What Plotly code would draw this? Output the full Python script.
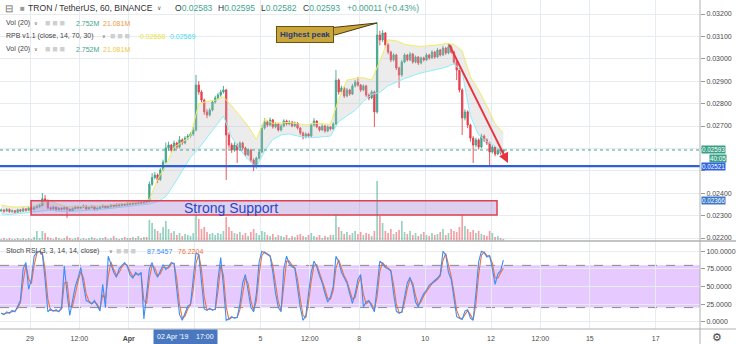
import pandas as pd
import plotly.graph_objects as go

FONT = "Liberation Sans, Arial, sans-serif"
W, H = 736, 344
ML, MR, MT, MB = 0, 36, 0, 15
PW, PH = W - ML - MR, H - MT - MB
SPLIT = (PH - 241) / PH

# ---------------- data (prices in 1e-5 USDT, 2-hour candles) ----------------
opens_e5 = [2322,2325,2320,2328,2318,2322,2315,2326,2320,2330,2324,2333,
2328,2336,2340,2345,2375,2368,2335,2330,2338,2326,2333,2329,
2336,2328,2322,2331,2340,2334,2338,2343,2330,2336,2341,2327,
2332,2338,2344,2335,2340,2347,2342,2350,2345,2352,2348,2355,
2351,2358,2354,2361,2357,2365,2362,2440,2470,2481,2460,2504,
2539,2602,2615,2593,2624,2606,2638,2624,2646,2655,2664,2682,
2883,2852,2816,2763,2749,2771,2807,2825,2838,2852,2861,2660,
2615,2593,2615,2593,2624,2602,2571,2593,2548,2517,2557,2584,
2691,2718,2704,2727,2696,2709,2682,2700,2722,2709,2718,2700,
2713,2691,2669,2651,2664,2655,2704,2722,2696,2682,2700,2678,
2696,2687,2709,2905,2852,2870,2834,2861,2843,2879,2896,2883,
2861,2879,2838,2825,2852,2763,3106,3084,3115,3062,3030,2995,
3017,2959,2928,2986,3017,2995,3021,2986,3008,2981,3004,2995,
3017,3004,3030,3008,3039,3017,3048,3026,3053,3030,2986,2950,
2861,2736,2763,2704,2646,2615,2638,2606,2655,2638,2624,2584,
2606,2575,2593,2583]
highs_e5 = [2331,2329,2334,2332,2327,2325,2331,2330,2336,2334,2339,2337,
2342,2346,2352,2401,2392,2372,2340,2344,2341,2338,2337,2342,
2339,2332,2336,2346,2344,2343,2349,2346,2341,2347,2344,2337,
2343,2350,2347,2345,2352,2351,2355,2354,2357,2356,2360,2359,
2363,2362,2366,2365,2370,2369,2452,2490,2495,2488,2512,2550,
2626,2630,2620,2635,2630,2655,2645,2655,2664,2672,2695,2928,
2900,2860,2822,2775,2780,2815,2835,2848,2862,2879,2866,2672,
2625,2628,2622,2632,2630,2608,2600,2598,2555,2563,2592,2705,
2735,2725,2738,2732,2718,2714,2708,2730,2728,2726,2723,2720,
2717,2695,2675,2672,2670,2712,2735,2726,2700,2708,2704,2703,
2700,2716,2950,2912,2880,2876,2870,2866,2888,2905,2919,2888,
2886,2884,2845,2860,2858,3160,3125,3128,3120,3070,3036,3025,
3022,2965,2995,3025,3022,3030,3026,3015,3012,3010,3010,3025,
3022,3038,3035,3048,3044,3058,3052,3070,3060,3036,2992,2958,
2868,2775,2770,2710,2655,2648,2645,2665,2662,2645,2630,2615,
2610,2600,2598,2595]
lows_e5 = [2316,2313,2317,2312,2313,2309,2312,2315,2316,2318,2320,2322,
2324,2331,2335,2341,2360,2328,2322,2325,2319,2321,2322,2325,
2290,2316,2318,2327,2328,2330,2334,2324,2326,2332,2321,2322,
2328,2334,2330,2331,2336,2337,2339,2340,2342,2343,2345,2346,
2348,2349,2351,2352,2354,2356,2360,2432,2462,2445,2455,2498,
2532,2590,2580,2588,2598,2600,2615,2618,2638,2648,2656,2676,
2840,2805,2750,2735,2742,2765,2800,2818,2830,2845,2459,2600,
2580,2585,2535,2588,2594,2562,2565,2538,2499,2510,2550,2580,
2684,2695,2698,2688,2690,2675,2676,2694,2702,2703,2694,2695,
2684,2660,2640,2645,2648,2650,2698,2690,2675,2677,2670,2672,
2680,2683,2705,2840,2845,2825,2828,2835,2838,2872,2875,2852,
2855,2830,2815,2820,2696,2755,3060,3075,3050,3020,2985,2988,
2950,2870,2920,2980,2988,2990,2978,2980,2972,2975,2988,2990,
2996,3000,3000,3004,3010,3012,3018,3020,3022,2975,2905,2850,
2660,2725,2690,2630,2535,2605,2595,2600,2628,2615,2526,2578,
2565,2570,2572,2578]
closes_e5 = [2325,2320,2328,2318,2322,2315,2326,2320,2330,2324,2333,2328,
2336,2340,2345,2375,2368,2335,2330,2338,2326,2333,2329,2336,
2328,2322,2331,2340,2334,2338,2343,2330,2336,2341,2327,2332,
2338,2344,2335,2340,2347,2342,2350,2345,2352,2348,2355,2351,
2358,2354,2361,2357,2365,2362,2440,2470,2481,2460,2504,2539,
2602,2615,2593,2624,2606,2638,2624,2646,2655,2664,2682,2883,
2852,2816,2763,2749,2771,2807,2825,2838,2852,2861,2660,2615,
2593,2615,2593,2624,2602,2571,2593,2548,2517,2557,2584,2691,
2718,2704,2727,2696,2709,2682,2700,2722,2709,2718,2700,2713,
2691,2669,2651,2664,2655,2704,2722,2696,2682,2700,2678,2696,
2687,2709,2905,2852,2870,2834,2861,2843,2879,2896,2883,2861,
2879,2838,2825,2852,2763,3106,3084,3115,3062,3030,2995,3017,
2959,2928,2986,3017,2995,3021,2986,3008,2981,3004,2995,3017,
3004,3030,3008,3039,3017,3048,3026,3053,3030,2986,2950,2861,
2736,2763,2704,2646,2615,2638,2606,2655,2638,2624,2584,2606,
2575,2593,2580,2593]
volumes_m = [8,12,8,12,8,8,12,8,12,8,12,8,
16,40,12,40,32,16,
12,8,16,12,8,12,20,12,8,12,16,8,12,8,12,16,12,8,12,12,16,8,12,20,12,8,12,16,12,12,16,12,20,12,16,16,
84,72,48,40,32,56,80,48,32,40,24,32,20,28,24,20,32,104,88,48,56,36,28,32,24,32,28,40,96,56,40,32,28,36,
24,32,20,36,48,32,24,40,36,24,20,28,16,24,20,16,24,12,20,16,24,28,20,16,24,32,20,16,24,12,20,16,24,
24,104,56,40,28,36,24,32,40,28,36,24,32,28,20,40,240,100,72,40,32,48,28,36,44,80,36,28,40,24,32,20,
28,36,24,20,32,24,28,36,48,24,32,48,40,36,56,104,60,48,36,44,32,40,28,24,20,40,32,16,20,12,8]
# RPB bands, sampled every 3rd candle
rpb_upper_e5 = [2347,2340,2338,2340,2343,2358,2368,2350,2340,2341,2343,2342,2343,2346,2350,2354,
2358,2362,2372,2462,2525,2605,2628,2655,2800,2810,2815,2830,2790,2745,2700,2640,2730,2712,2715,
2716,2710,2705,2712,2710,2708,2820,2905,2912,2916,2905,2990,3085,3080,3065,3058,3055,3058,3062,
3068,3065,3035,2920,2860,2790,2710,2668]
rpb_lower_e5 = [2307,2305,2308,2312,2318,2322,2325,2320,2318,2320,2322,2325,2325,2330,2335,2340,
2344,2349,2352,2362,2385,2440,2500,2560,2600,2650,2700,2745,2650,2595,2550,2515,2590,2640,2660,
2665,2655,2650,2648,2652,2655,2720,2745,2770,2810,2840,2850,2880,2895,2912,2925,2937,2945,2952,
2962,2978,2940,2745,2660,2630,2610,2569]
stoch_k = [12,10,14,12,16,14,22,30,75,84,46,60,
93,99,100,96,60,14,18,15,17,14,20,79,
40,9,30,50,62,77,52,30,28,25,30,22,
15,53,20,93,80,70,63,75,80,84,78,66,
62,70,66,70,4,40,75,84,70,63,72,81,
74,78,84,82,45,10,2,12,22,25,60,98,
95,60,18,16,19,16,18,60,91,50,2,4,
7,5,6,25,55,67,45,20,14,40,85,100,
98,95,93,70,40,20,14,75,93,82,78,76,
50,20,2,8,40,70,86,78,65,55,40,28,
35,50,93,85,70,62,55,40,26,40,60,67,
21,28,30,22,14,50,86,82,77,75,72,40,
15,12,14,35,55,63,50,28,21,32,40,45,
52,55,58,62,67,100,95,70,60,30,7,5,
3,15,17,5,2,40,85,100,98,92,94,75,
53,68,72,87.5457]
stoch_d = [12,11,12,13,14,15,19,27,57,80,61,54,
80,97,100,98,74,32,16,16,16,15,18,55,
56,21,22,42,57,71,62,39,29,26,28,25,
18,38,33,64,85,74,66,70,78,82,80,71,
64,67,68,68,30,26,61,80,76,66,68,77,
77,76,82,83,60,24,5,8,18,24,46,83,
96,74,35,17,18,17,17,43,79,66,21,3,
6,6,6,17,43,62,54,30,16,30,67,94,
99,96,94,79,52,28,16,51,86,86,80,77,
60,32,9,6,27,58,80,81,70,59,46,33,
32,44,76,88,76,65,58,46,32,34,52,64,
39,25,29,25,17,36,72,84,79,76,73,53,
25,13,13,27,47,60,55,37,24,28,37,43,
49,54,57,60,65,87,97,80,64,42,16,6,
4,10,16,10,3,25,67,94,99,94,93,83,
62,62,70,76.2204]

price_ticks = [0.022,0.023,0.024,0.025,0.026,0.027,0.028,0.029,0.030,0.031,0.032]
price_tick_labels = ['0.02200','0.02300','0.02400','','','0.02700','0.02800','0.02900','0.03000','0.03100','0.03200']
stoch_ticks = [0,25,50,75,100]
time_ticks = ['2019-03-29 00:00','2019-03-30 12:00','2019-04-01 00:00','2019-04-03 00:00',
              '2019-04-05 00:00','2019-04-06 12:00','2019-04-08 00:00','2019-04-10 00:00',
              '2019-04-12 00:00','2019-04-13 12:00','2019-04-15 00:00','2019-04-17 00:00']
time_labels = ['29','12:00','<b>Apr</b>','','5','12:00','8','10','12','12:00','15','17']

support_low, support_high = 0.02303, 0.02366
support_start, support_end = '2019-03-29 00:44', '2019-04-12 04:24'
hline_price = 0.02521
last_price = 0.02593
arrow_end = ('2019-04-12 12:24', 0.02535)

n = len(closes_e5)
assert all(len(a) == n for a in [opens_e5, highs_e5, lows_e5, volumes_m, stoch_k, stoch_d]), \
    [len(a) for a in [opens_e5, highs_e5, lows_e5, closes_e5, volumes_m, stoch_k, stoch_d]]
times = pd.date_range('2019-03-28 03:00', periods=n, freq='2h')
band_times = times[::3]
assert len(band_times) == len(rpb_upper_e5) == len(rpb_lower_e5)

sc = lambda a: [v / 1e5 for v in a]
opens, highs, lows, closes = sc(opens_e5), sc(highs_e5), sc(lows_e5), sc(closes_e5)

UP, DN = '#3fa58c', '#e8404f'
GRID = '#e7ecf1'
XR = ['2019-03-28 02:08', '2019-04-18 08:20']
PRICE_RANGE = [0.021866, 0.032625]
STOCH_RANGE = [-10.4, 114.6]
VOL_RANGE = [0, 964]

vol_colors = ['rgba(80,180,150,0.6)' if c >= o else 'rgba(236,95,105,0.6)'
              for o, c in zip(opens_e5, closes_e5)]

fig = go.Figure()
fig.add_trace(go.Bar(x=times, y=volumes_m, marker=dict(color=vol_colors, line_width=0),
                     width=2 * 3600 * 1000 * 0.62, xaxis='x', yaxis='y', hoverinfo='skip'))
fig.add_trace(go.Scatter(x=band_times, y=sc(rpb_upper_e5), mode='lines',
                         line=dict(color='#f2ec62', width=1), xaxis='x', yaxis='y3', hoverinfo='skip'))
fig.add_trace(go.Scatter(x=band_times, y=sc(rpb_lower_e5), mode='lines',
                         line=dict(color='#8eeefb', width=1), fill='tonexty',
                         fillcolor='rgba(185,185,185,0.28)', xaxis='x', yaxis='y3', hoverinfo='skip'))
fig.add_trace(go.Candlestick(x=times, open=opens, high=highs, low=lows, close=closes,
                             increasing=dict(line=dict(color=UP, width=0.9), fillcolor=UP),
                             decreasing=dict(line=dict(color=DN, width=0.9), fillcolor=DN),
                             whiskerwidth=0, xaxis='x', yaxis='y3', hoverinfo='skip'))
fig.add_trace(go.Scatter(x=times, y=stoch_d, mode='lines', line=dict(color='#f2703a', width=1.1),
                         xaxis='x2', yaxis='y2', hoverinfo='skip'))
fig.add_trace(go.Scatter(x=times, y=stoch_k, mode='lines', line=dict(color='#3d8ef7', width=1.1),
                         xaxis='x2', yaxis='y2', hoverinfo='skip'))

tickfont = dict(family=FONT, size=7, color='#4a4a4a')
fig.update_layout(
    width=W, height=H, margin=dict(l=ML, r=MR, t=MT, b=MB),
    paper_bgcolor='white', plot_bgcolor='white', showlegend=False,
    xaxis=dict(domain=[0, 1], anchor='y', range=XR, type='date', tickvals=time_ticks,
               showticklabels=False, showgrid=True, gridcolor=GRID, zeroline=False,
               rangeslider=dict(visible=False), ticks=''),
    xaxis2=dict(domain=[0, 1], anchor='y2', range=XR, type='date', tickvals=time_ticks,
                ticktext=time_labels, showgrid=True, gridcolor=GRID, zeroline=False,
                rangeslider=dict(visible=False), tickfont=tickfont, ticks='outside',
                ticklen=3, tickcolor='rgba(0,0,0,0)'),
    yaxis=dict(domain=[SPLIT, 1], range=VOL_RANGE, visible=False),
    yaxis3=dict(overlaying='y', anchor='x', side='right', range=PRICE_RANGE,
                tickvals=price_ticks, ticktext=price_tick_labels,
                showgrid=True, gridcolor=GRID, zeroline=False, ticks='outside', ticklen=4,
                tickcolor='#9a9a9a', tickfont=tickfont),
    yaxis2=dict(domain=[0, SPLIT], anchor='x2', side='right', range=STOCH_RANGE,
                tickvals=stoch_ticks, ticktext=['%.4f' % v for v in stoch_ticks],
                showgrid=True, gridcolor=GRID, zeroline=False, ticks='outside', ticklen=4,
                tickcolor='#9a9a9a', tickfont=tickfont),
)

# stoch band
fig.add_shape(type='rect', xref='paper', x0=0, x1=1, yref='y2', y0=20, y1=80,
              fillcolor='rgba(190,120,255,0.40)', line_width=0, layer='below')
for lvl in (20, 80):
    fig.add_shape(type='line', xref='paper', x0=0, x1=1, yref='y2', y0=lvl, y1=lvl,
                  line=dict(color='#8a8a8a', width=1, dash='dash'), layer='below')
# price drawings
fig.add_shape(type='line', xref='paper', x0=0, x1=1, yref='y3', y0=last_price, y1=last_price,
              line=dict(color=UP, width=1, dash='dot'), layer='above')
fig.add_shape(type='line', xref='paper', x0=0, x1=1, yref='y3', y0=hline_price, y1=hline_price,
              line=dict(color='#2e5fdc', width=2.2), layer='above')
fig.add_shape(type='rect', xref='x', x0=support_start, x1=support_end, yref='y3',
              y0=support_low, y1=support_high, fillcolor='rgba(165,130,210,0.38)',
              line=dict(color='#e0404f', width=1.5), layer='above')
# callout tail (pixel offsets from the peak candle's high)
fig.add_shape(type='path', xref='x', yref='y3', xsizemode='pixel', ysizemode='pixel',
              xanchor=times[137], yanchor=highs[137],
              path='M 0 0 L -58 -6 L -42 -12 Z', fillcolor='#c9a53a',
              line=dict(color='#4a3a10', width=1), layer='above')
# pane frame lines
fig.add_shape(type='line', xref='paper', x0=0, x1=W / PW, yref='paper', y0=SPLIT, y1=SPLIT,
              line=dict(color='#b0b0b0', width=1.5))
fig.add_shape(type='line', xref='paper', x0=0, x1=W / PW, yref='paper', y0=0, y1=0,
              line=dict(color='#b0b0b0', width=1))
fig.add_shape(type='line', xref='paper', x0=1, x1=1, yref='paper', y0=-MB / PH, y1=1,
              line=dict(color='#b0b0b0', width=1))

fig.add_annotation(xref='x', yref='y3', x='2019-04-04 02:30', y=(support_low + support_high) / 2,
                   text='Strong Support', showarrow=False,
                   font=dict(family=FONT, size=14, color='#2747c9'))
fig.add_annotation(xref='x', yref='y3', x=times[137], y=highs[137], xshift=-72, yshift=-12,
                   text='<b>Highest peak</b>', font=dict(family=FONT, size=8, color='#1e3a7a'),
                   bgcolor='#c9a53a', bordercolor='#6b5114', borderwidth=1, borderpad=3,
                   showarrow=False)
fig.add_annotation(xref='x', yref='y3', x=arrow_end[0], y=arrow_end[1],
                   axref='x', ayref='y3', ax=times[163], ay=highs[163], text='',
                   showarrow=True, arrowhead=2, arrowsize=1, arrowwidth=2, arrowcolor='#e8343f')


def txt(px, py, s, size=7, color='#333', anchor='left', **kw):
    fig.add_annotation(xref='paper', yref='paper', x=px / PW, y=1 - py / PH, text=s,
                       showarrow=False, xanchor=anchor, yanchor='middle',
                       font=dict(family=FONT, size=size, color=color), **kw)


TEAL = '#3fa58c'
BOXES = '\u25a0\u2009\u25a0\u2009\u25a0'
txt(3, 8, '\u229f', size=10, color='#666')
txt(18, 8, '\u25a0', size=8, color='#9a9a9a')
txt(26, 8, 'TRON / TetherUS, 60, BINANCE', size=8.6, color='#333')
txt(155, 8, '\u2228', size=6, color='#555')
for px, lab, val in [(173, 'O', '0.02583'), (216, 'H', '0.02595'), (259, 'L', '0.02582'), (301, 'C', '0.02593')]:
    txt(px, 8, lab + '<span style="color:%s">%s</span>' % (TEAL, val), size=8.5, color='#333')
txt(345, 8, '+0.00011 (+0.43%)', size=8.5, color=TEAL)

for py, orange in [(23, '#f39a3c'), (49, '#f2c540')]:
    txt(4, py, 'Vol (20)', size=7, color='#444')
    txt(32, py, '\u2228', size=5, color='#555')
    txt(43, py, BOXES, size=9, color='#cfcfcf')
    txt(74, py, '2.752M', size=7, color=TEAL)
    txt(101, py, '21.081M', size=7, color=orange)
txt(4, 36, 'RPB v1.1 (close, 14, 70, 30)', size=7, color='#444')
txt(100, 36, '\u2228', size=5, color='#555')
txt(108, 36, BOXES, size=9, color='#cfcfcf')
txt(138, 36, '0.02668', size=7, color='#e6e23a')
txt(168, 36, '0.02569', size=7, color='#3fdcf0')

txt(4, 251, 'Stoch RSI (3, 3, 14, 14, close)', size=7, color='#444')
txt(107, 251, '\u2228', size=5, color='#555')
txt(114, 251, BOXES, size=9, color='#cfcfcf')
txt(145, 251, '87.5457', size=7, color='#3d8ef7')
txt(176, 251, '76.2204', size=7, color='#f2703a')

# price-scale labels
for price, label, bg, ys, xs in [(last_price, '0.02593', '#3a9f86', 0, 1),
                                 (last_price, '40:05', '#3a9f86', -8.6, 9),
                                 (hline_price, '0.02521', '#2f63e0', -0.8, 1),
                                 (support_high, '0.02366', '#3d79c9', 0, 1)]:
    fig.add_annotation(xref='paper', x=1, xanchor='left', xshift=xs, yref='y3', y=price, yshift=ys,
                       text=label, showarrow=False, bgcolor=bg, borderpad=0,
                       font=dict(family=FONT, size=6.3, color='white'))

fig.add_annotation(xref='x2', x='2019-04-02 17:00', yref='paper', y=1 - 337 / PH, yanchor='middle',
                   text="02 Apr '19\u00a0\u00a0\u00a0\u00a017:00", showarrow=False, bgcolor='#4a78c0',
                   borderpad=3, font=dict(family=FONT, size=7, color='white'))
txt(717, 337, '\u2699', size=11, color='#444', anchor='center')

fig.write_html('out.html', config={'displayModeBar': False})
